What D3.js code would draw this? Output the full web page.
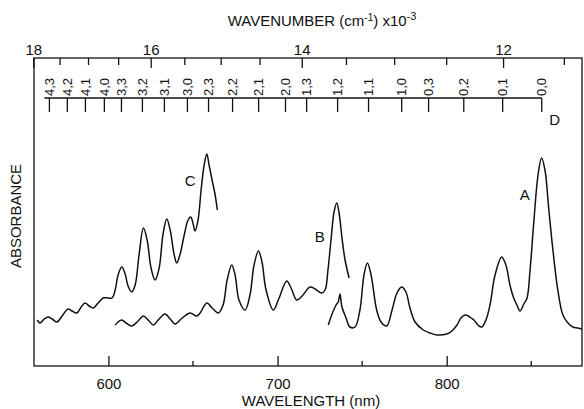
<!DOCTYPE html>
<html>
<head>
<meta charset="utf-8">
<script src="https://cdn.jsdelivr.net/npm/d3@7"></script>
<style>
  body { margin: 0; background: #fff; }
  svg { font-family: "Liberation Sans", Arial, sans-serif; }
</style>
</head>
<body>
<div id="chart"></div>
<script>
// absorption spectra, wavelength (nm) vs absorbance (arb.)
var curveC = [[557.9,0.46],[559.6,0.43],[562.0,0.47],[564.4,0.49],[566.8,0.47],[569.6,0.44],[572.6,0.50],[576.2,0.57],[578.5,0.55],[581.3,0.53],[583.9,0.59],[586.2,0.63],[588.6,0.60],[591.0,0.58],[593.9,0.63],[596.9,0.68],[599.8,0.68],[602.2,0.68],[604.0,0.76],[605.7,0.91],[607.9,0.99],[609.9,0.92],[611.6,0.80],[613.8,0.74],[615.8,0.81],[618.1,1.11],[620.7,1.38],[622.9,1.26],[625.2,0.98],[627.6,0.86],[630.0,0.98],[632.3,1.32],[634.5,1.47],[636.5,1.36],[638.8,1.12],[640.4,1.03],[642.4,1.12],[644.7,1.30],[647.1,1.46],[648.7,1.49],[650.1,1.42],[651.2,1.35],[653.0,1.46],[654.8,1.76],[656.6,2.01],[658.2,2.12],[659.5,2.01],[661.3,1.86],[663.1,1.71],[664.4,1.56]];

var curveB = [[604.0,0.41],[605.7,0.44],[607.9,0.46],[610.5,0.43],[613.8,0.40],[617.0,0.44],[620.7,0.50],[623.5,0.46],[626.6,0.41],[629.4,0.46],[633.5,0.52],[636.5,0.47],[639.4,0.42],[643.6,0.48],[648.3,0.53],[652.2,0.50],[654.2,0.53],[658.2,0.63],[661.3,0.58],[665.0,0.53],[667.8,0.61],[670.2,0.86],[672.9,1.01],[674.9,0.91],[677.2,0.66],[680.8,0.56],[683.7,0.71],[686.1,1.01],[688.7,1.15],[690.8,1.04],[693.2,0.76],[697.5,0.56],[700.9,0.68],[705.4,0.85],[708.0,0.78],[711.3,0.66],[714.5,0.70],[719.2,0.79],[722.2,0.77],[726.1,0.73],[728.1,0.76],[729.8,0.96],[731.6,1.26],[733.4,1.54],[735.0,1.63],[736.3,1.54],[738.1,1.28],[739.9,1.06],[742.3,0.88]];

var curveA = [[730.0,0.41],[732.0,0.51],[734.6,0.61],[735.9,0.64],[736.9,0.72],[738.1,0.59],[740.5,0.48],[742.8,0.39],[745.8,0.39],[748.7,0.56],[751.1,0.91],[753.1,1.03],[755.3,0.91],[758.6,0.56],[761.2,0.44],[764.5,0.40],[767.7,0.56],[770.6,0.73],[773.4,0.79],[775.9,0.74],[778.3,0.58],[781.3,0.44],[786.2,0.36],[790.1,0.33],[794.1,0.31],[800.0,0.32],[803.1,0.35],[806.1,0.41],[808.4,0.48],[810.8,0.51],[812.8,0.50],[814.4,0.48],[816.1,0.46],[818.5,0.41],[820.7,0.39],[823.2,0.46],[825.6,0.61],[828.6,0.91],[832.5,1.09],[835.0,1.01],[837.4,0.81],[839.4,0.69],[841.5,0.61],[843.3,0.55],[845.6,0.62],[847.5,0.68],[849.3,0.96],[851.6,1.46],[854.0,1.91],[856.1,2.08],[858.1,1.96],[860.4,1.56],[862.8,1.16],[865.7,0.76],[868.7,0.51],[871.7,0.43],[874.6,0.39],[877.6,0.38],[880.0,0.37]];

var curveLabels = [["A",846.2,1.71],["B",725.0,1.29],["C",648.3,1.85],["D",863.9,2.46]];

// vibronic assignments (v', v'') and their wavelengths
var assignLabels = ["4,3","4,2","4,1","4,0","3,3","3,2","3,1","3,0","2,3","2,2","2,1","2,0","1,3","1,2","1,1","1,0","0,3","0,2","0,1","0,0"];
var assignNm = [565.1,575.7,586.4,597.6,607.7,620.1,633.1,646.7,659.2,673.4,688.8,704.7,717.2,735.5,753.8,773.4,789.3,810.1,833.1,856.2];

var wlMajor = [600, 700, 800];
var wlMinor = [650, 750, 850];
var wnMajor = [18, 16, 14, 12];
var wnMinor = [17.5, 17, 16.5, 15.5, 15, 14.5, 13.5, 13, 12.5, 11.5];

var width = 584, height = 409;
var margin = {top: 58, right: 2, bottom: 43, left: 34};

var svg = d3.select("#chart")
  .append("svg")
    .attr("width", width)
    .attr("height", height);

var xScale = d3.scaleLinear()
  .domain([556, 880])
  .range([margin.left, width - margin.right]);

var yScale = d3.scaleLinear()
  .domain([0, 3.08])
  .range([height - margin.bottom, margin.top]);

var x0 = margin.left, x1 = width - margin.right;
var yb = height - margin.bottom, yt = margin.top;

// frame
svg.append("rect")
  .attr("x", x0).attr("y", yt)
  .attr("width", x1 - x0).attr("height", yb - yt)
  .style("fill", "none").style("stroke", "#111").style("stroke-width", 1.3);

// bottom axis (ticks point inward)
var bottomAxis = svg.append("g")
  .attr("transform", "translate(0," + yb + ")")
  .call(d3.axisBottom(xScale).tickValues(wlMajor).tickSize(-10).tickSizeOuter(0).tickPadding(12).tickFormat(d3.format("d")));
bottomAxis.select(".domain").remove();
bottomAxis.selectAll("line").style("stroke", "#111").style("stroke-width", 1.3);
bottomAxis.selectAll("text").style("font-size", "15px").style("fill", "#111").attr("font-family", null);

svg.append("g").selectAll("line")
  .data(wlMinor).enter().append("line")
    .attr("x1", function(d){ return xScale(d); })
    .attr("x2", function(d){ return xScale(d); })
    .attr("y1", yb).attr("y2", yb - 5)
    .style("stroke", "#111").style("stroke-width", 1.3);

svg.append("text")
  .attr("x", 311).attr("y", 406)
  .attr("text-anchor", "middle")
  .style("font-size", "15px").style("fill", "#111")
  .text("WAVELENGTH (nm)");

// top axis in wavenumber (kcm-1), placed on the wavelength scale
function wnToNm(k){ return 1e4 / k; }

var topAxis = svg.append("g")
  .attr("transform", "translate(0," + yt + ")")
  .call(d3.axisTop(xScale).tickValues(wnMajor.map(wnToNm)).tickSize(-10).tickSizeOuter(0).tickPadding(3)
    .tickFormat(function(d){ return d3.format("d")(Math.round(1e4 / d)); }));
topAxis.select(".domain").remove();
topAxis.selectAll("line").style("stroke", "#111").style("stroke-width", 1.3);
topAxis.selectAll("text").style("font-size", "15px").style("fill", "#111").attr("font-family", null);

svg.append("g").selectAll("line")
  .data(wnMinor).enter().append("line")
    .attr("x1", function(d){ return xScale(wnToNm(d)); })
    .attr("x2", function(d){ return xScale(wnToNm(d)); })
    .attr("y1", yt).attr("y2", yt + 7)
    .style("stroke", "#111").style("stroke-width", 1.3);

var title = svg.append("text")
  .attr("x", 322).attr("y", 26)
  .attr("text-anchor", "middle")
  .style("font-size", "15px").style("fill", "#111");
title.append("tspan").text("WAVENUMBER (cm");
title.append("tspan").attr("dy", -5).style("font-size", "10px").text("-1");
title.append("tspan").attr("dy", 5).text(") x10");
title.append("tspan").attr("dy", -6).style("font-size", "11px").text("-3");

// assignment ruler
var rulerY = 98;
svg.append("line")
  .attr("x1", xScale(assignNm[0]) - 5).attr("x2", xScale(assignNm[assignNm.length - 1]))
  .attr("y1", rulerY).attr("y2", rulerY)
  .style("stroke", "#111").style("stroke-width", 1.3);

var assign = svg.append("g").selectAll("g")
  .data(assignNm).enter().append("g")
    .attr("transform", function(d){ return "translate(" + xScale(d) + "," + rulerY + ")"; });
assign.append("line")
  .attr("y1", 0).attr("y2", 14)
  .style("stroke", "#111").style("stroke-width", 1.3);
assign.append("text")
  .attr("transform", "rotate(-90)")
  .attr("x", 2).attr("dy", "0.35em")
  .style("font-size", "13px").style("fill", "#111")
  .text(function(d, i){ return assignLabels[i]; });

// y label
svg.append("text")
  .attr("transform", "translate(21,216) rotate(-90)")
  .attr("text-anchor", "middle")
  .style("font-size", "15px").style("fill", "#111")
  .text("ABSORBANCE");

// spectra
var line = d3.line()
  .x(function(d){ return xScale(d[0]); })
  .y(function(d){ return yScale(d[1]); })
  .curve(d3.curveCatmullRom);

svg.selectAll("spectra")
  .data([curveC, curveB, curveA])
  .enter()
  .append("path")
    .attr("d", function(d){ return line(d); })
    .style("fill", "none")
    .style("stroke", "#111")
    .style("stroke-width", 1.5);

svg.selectAll("curveLabels")
  .data(curveLabels)
  .enter()
  .append("text")
    .attr("x", function(d){ return xScale(d[1]); })
    .attr("y", function(d){ return yScale(d[2]); })
    .attr("text-anchor", "middle")
    .attr("dy", "0.35em")
    .style("font-size", "15px").style("fill", "#111")
    .text(function(d){ return d[0]; });
</script>
</body>
</html>
